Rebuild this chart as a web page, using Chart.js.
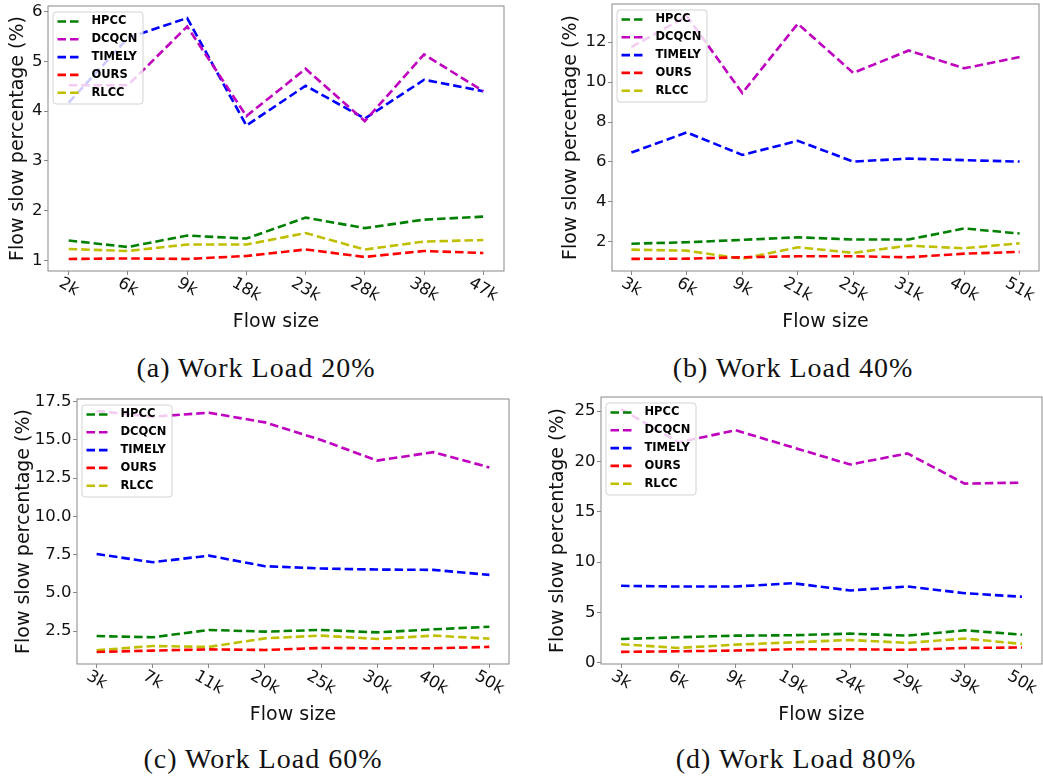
<!DOCTYPE html>
<html>
<head>
<meta charset="utf-8">
<script src="https://cdn.jsdelivr.net/npm/chart.js@4"></script>
<style>
  body { margin: 0; background: #fff; width: 1043px; height: 782px; position: relative; overflow: hidden; }
  canvas { position: absolute; }
  .caption { position: absolute; width: 400px; text-align: center; white-space: nowrap;
             font-family: 'Liberation Serif', serif; font-size: 28px; letter-spacing: 1px;
             line-height: 31px; color: #111; }
</style>
</head>
<body>
<canvas id="chart20" width="521" height="335" style="left:0;top:0"></canvas>
<canvas id="chart40" width="503" height="335" style="left:540px;top:0"></canvas>
<canvas id="chart60" width="521" height="345" style="left:0;top:390px"></canvas>
<canvas id="chart80" width="503" height="345" style="left:540px;top:390px"></canvas>
<div class="caption" style="left:56px;top:352px">(a) Work Load 20%</div>
<div class="caption" style="left:593px;top:352px">(b) Work Load 40%</div>
<div class="caption" style="left:63px;top:743px">(c) Work Load 60%</div>
<div class="caption" style="left:596px;top:743px">(d) Work Load 80%</div>
<script>
// series shared by all four plots
const seriesNames = ['HPCC', 'DCQCN', 'TIMELY', 'OURS', 'RLCC'];
const seriesColors = ['#008000', '#bf00bf', '#0000ff', '#ff0000', '#bfbf00'];

// work load 20%
const sizes20 = ['2k', '6k', '9k', '18k', '23k', '28k', '38k', '47k'];
const hpcc20 = [1.40, 1.27, 1.50, 1.44, 1.86, 1.65, 1.82, 1.88];
const dcqcn20 = [4.52, 4.52, 5.70, 3.90, 4.85, 3.80, 5.14, 4.40];
const timely20 = [4.17, 5.47, 5.87, 3.71, 4.51, 3.85, 4.63, 4.40];
const ours20 = [1.03, 1.04, 1.03, 1.09, 1.22, 1.07, 1.19, 1.15];
const rlcc20 = [1.23, 1.19, 1.32, 1.32, 1.55, 1.22, 1.38, 1.41];
const yTicks20 = [1, 2, 3, 4, 5, 6];

// work load 40%
const sizes40 = ['3k', '6k', '9k', '21k', '25k', '31k', '40k', '51k'];
const hpcc40 = [1.91, 1.98, 2.10, 2.23, 2.12, 2.12, 2.67, 2.42];
const dcqcn40 = [11.75, 13.30, 9.45, 12.92, 10.46, 11.58, 10.69, 11.25];
const timely40 = [6.47, 7.48, 6.35, 7.06, 6.02, 6.17, 6.09, 6.02];
const ours40 = [1.15, 1.16, 1.23, 1.28, 1.28, 1.23, 1.41, 1.50];
const rlcc40 = [1.61, 1.56, 1.16, 1.73, 1.45, 1.81, 1.68, 1.93];
const yTicks40 = [2, 4, 6, 8, 10, 12];

// work load 60%
const sizes60 = ['3k', '7k', '11k', '20k', '25k', '30k', '40k', '50k'];
const hpcc60 = [2.17, 2.09, 2.57, 2.46, 2.57, 2.41, 2.61, 2.78];
const dcqcn60 = [16.89, 16.52, 16.78, 16.15, 15.00, 13.65, 14.20, 13.20];
const timely60 = [7.54, 7.00, 7.43, 6.74, 6.59, 6.52, 6.50, 6.17];
const ours60 = [1.13, 1.22, 1.30, 1.26, 1.39, 1.37, 1.37, 1.46];
const rlcc60 = [1.24, 1.52, 1.46, 2.02, 2.20, 1.98, 2.20, 2.00];
const yTicks60 = [2.5, 5, 7.5, 10, 12.5, 15, 17.5];

// work load 80%
const sizes80 = ['3k', '6k', '9k', '19k', '24k', '29k', '39k', '50k'];
const hpcc80 = [2.37, 2.54, 2.70, 2.74, 2.90, 2.70, 3.23, 2.80];
const dcqcn80 = [25.2, 21.9, 23.1, 21.4, 19.7, 20.8, 17.8, 17.9];
const timely80 = [7.65, 7.58, 7.58, 7.91, 7.19, 7.58, 6.92, 6.56];
const ours80 = [1.09, 1.15, 1.22, 1.35, 1.35, 1.29, 1.48, 1.52];
const rlcc80 = [1.85, 1.48, 1.81, 2.04, 2.27, 1.98, 2.41, 1.88];
const yTicks80 = [0, 5, 10, 15, 20, 25];

Chart.defaults.font.family = "'DejaVu Sans', sans-serif";
Chart.defaults.color = '#111';
Chart.defaults.animation = false;

const LINE_DASH = [8.5, 4];
const LINE_WIDTH = 2.6;
const TICK_FONT = 16.5;

// 5% padding around the data, like matplotlib autoscale
function autoRange(series) {
  const all = series.flat();
  const lo = Math.min(...all), hi = Math.max(...all);
  const m = (hi - lo) * 0.05;
  return [lo - m, hi + m];
}

// frame, legend box and slanted flow-size labels
const axesDecor = {
  id: 'axesDecor',
  afterDatasetsDraw(chart) {
    const { ctx, chartArea: a } = chart;
    const x0 = a.left + 5, y0 = a.top + 6, w = 90, h = 92;
    ctx.save();
    ctx.beginPath();
    ctx.roundRect(x0, y0, w, h, 3);
    ctx.fillStyle = 'rgba(255,255,255,0.8)';
    ctx.fill();
    ctx.strokeStyle = 'rgba(200,200,200,0.8)';
    ctx.lineWidth = 1;
    ctx.stroke();
    ctx.font = "bold 11.5px 'DejaVu Sans'";
    ctx.textBaseline = 'middle';
    chart.data.datasets.forEach((ds, i) => {
      const y = y0 + 9.5 + i * 17.8;
      ctx.beginPath();
      ctx.setLineDash(ds.borderDash);
      ctx.strokeStyle = ds.borderColor;
      ctx.lineWidth = ds.borderWidth;
      ctx.moveTo(x0 + 4.5, y);
      ctx.lineTo(x0 + 26.5, y);
      ctx.stroke();
      ctx.setLineDash([]);
      ctx.fillStyle = '#000';
      ctx.fillText(ds.label, x0 + 38.5, y);
    });
    ctx.restore();
  },
  afterDraw(chart) {
    const { ctx, chartArea: a, scales: { x } } = chart;
    ctx.save();
    ctx.strokeStyle = '#888';
    ctx.lineWidth = 1;
    ctx.strokeRect(a.left, a.top, a.right - a.left, a.bottom - a.top);
    ctx.font = TICK_FONT + "px 'DejaVu Sans'";
    ctx.fillStyle = '#111';
    ctx.textAlign = 'center';
    ctx.textBaseline = 'middle';
    chart.data.labels.forEach((t, i) => {
      const px = x.getPixelForValue(i);
      const tw = ctx.measureText(t).width;
      const cy = a.bottom + 4 + (tw * 0.5 + TICK_FONT * 0.866) / 2;
      ctx.save();
      ctx.translate(px, cy);
      ctx.rotate(Math.PI / 6);
      ctx.fillText(t, 0, 0);
      ctx.restore();
    });
    ctx.restore();
  }
};

function buildChart(p) {
  const [yMin, yMax] = autoRange(p.series);
  const n = p.sizes.length;
  const tickGrid = { drawOnChartArea: false, drawTicks: true, tickLength: 4, color: '#888' };
  return new Chart(document.getElementById(p.id), {
    type: 'line',
    data: {
      labels: p.sizes,
      datasets: p.series.map((vals, i) => ({
        label: seriesNames[i],
        data: vals.map((v, k) => ({ x: k, y: v })),
        borderColor: seriesColors[i],
        borderWidth: LINE_WIDTH,
        borderDash: LINE_DASH,
        pointRadius: 0,
        fill: false,
        tension: 0
      }))
    },
    options: {
      responsive: false,
      layout: { padding: { left: 0, top: p.top, right: p.right, bottom: 0 } },
      plugins: { legend: { display: false }, tooltip: { enabled: false } },
      scales: {
        x: {
          type: 'linear',
          min: -(n - 1) * 0.05,
          max: (n - 1) * 1.05,
          afterBuildTicks: s => { s.ticks = p.sizes.map((_, k) => ({ value: k })); },
          afterFit: s => { s.height = p.xAxisHeight; s.paddingLeft = 0; s.paddingRight = 0; },
          ticks: { display: false },
          grid: tickGrid,
          border: { display: false },
          title: { display: true, text: 'Flow size', color: '#111', font: { size: 19 },
                   padding: { top: 0, bottom: p.xTitlePad } }
        },
        y: {
          min: yMin,
          max: yMax,
          afterBuildTicks: s => { s.ticks = p.yTicks.map(v => ({ value: v })); },
          afterFit: s => { s.width = p.yAxisWidth; s.paddingTop = 0; s.paddingBottom = 0; },
          ticks: {
            font: { size: TICK_FONT }, padding: 1.5, color: '#111',
            callback: v => p.decimals ? v.toFixed(p.decimals) : String(v)
          },
          grid: tickGrid,
          border: { display: false },
          title: { display: true, text: 'Flow slow percentage (%)', color: '#111', font: { size: 19 },
                   padding: { top: p.yTitlePad, bottom: 0 } }
        }
      }
    },
    plugins: [axesDecor]
  });
}

buildChart({ id: 'chart20', sizes: sizes20, series: [hpcc20, dcqcn20, timely20, ours20, rlcc20],
  yTicks: yTicks20, decimals: 0, top: 6, right: 17, yAxisWidth: 48, xAxisHeight: 64, yTitlePad: 7, xTitlePad: 1.6 });
buildChart({ id: 'chart40', sizes: sizes40, series: [hpcc40, dcqcn40, timely40, ours40, rlcc40],
  yTicks: yTicks40, decimals: 0, top: 4, right: 4, yAxisWidth: 72, xAxisHeight: 64, yTitlePad: 20, xTitlePad: 1.6 });
buildChart({ id: 'chart60', sizes: sizes60, series: [hpcc60, dcqcn60, timely60, ours60, rlcc60],
  yTicks: yTicks60, decimals: 1, top: 9, right: 12, yAxisWidth: 77, xAxisHeight: 71, yTitlePad: 12.6, xTitlePad: 9 });
buildChart({ id: 'chart80', sizes: sizes80, series: [hpcc80, dcqcn80, timely80, ours80, rlcc80],
  yTicks: yTicks80, decimals: 0, top: 7, right: 1, yAxisWidth: 61, xAxisHeight: 71, yTitlePad: 7, xTitlePad: 9 });
</script>
</body>
</html>
